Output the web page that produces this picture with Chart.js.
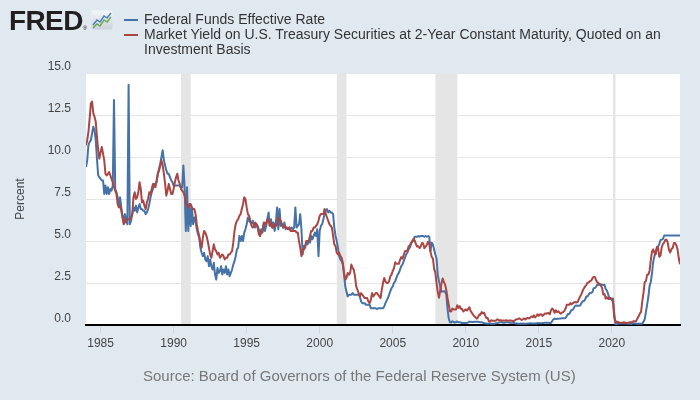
<!DOCTYPE html>
<html>
<head>
<meta charset="utf-8">
<script src="https://cdn.jsdelivr.net/npm/chart.js@4.4.1/dist/chart.umd.min.js"></script>
<style>
html,body{margin:0;padding:0;background:#e1e9f0;}
#wrap{position:relative;width:700px;height:400px;overflow:hidden;background:#e1e9f0;font-family:'Liberation Sans',Arial,sans-serif;}
#c{position:absolute;left:0;top:0;}
.logo{position:absolute;left:9px;top:6px;font-weight:bold;font-size:28px;line-height:30px;color:#231f20;letter-spacing:-0.6px;}
.logo .reg{font-size:6px;font-weight:normal;letter-spacing:0;vertical-align:baseline;}
.icon{position:absolute;left:91px;top:10px;}
#legend{position:absolute;left:124px;top:12px;}
.item{position:relative;padding-left:20px;width:536px;font-size:14px;line-height:15px;color:#333;}
.item .mk{position:absolute;left:0;top:7px;width:14px;height:2px;}
#source{position:absolute;left:143px;top:367px;font-size:15px;line-height:18px;color:#777;white-space:nowrap;}
</style>
</head>
<body>
<div id="wrap">
  <canvas id="c" width="700" height="400"></canvas>
  <div class="logo">FRED<span class="reg">®</span></div>
  <svg class="icon" width="22" height="20" viewBox="0 0 22 20">
    <defs><linearGradient id="g" x1="0" y1="0" x2="0" y2="1"><stop offset="0" stop-color="#f4f6f8"/><stop offset="1" stop-color="#c9d3db"/></linearGradient></defs>
    <rect x="0.5" y="0.5" width="21" height="19" rx="2" fill="url(#g)"/>
    <polyline points="2,15 6,10 9,12 13,6 16,8 20,3" fill="none" stroke="#4a7fb8" stroke-width="1.4"/>
    <polyline points="2,18 6,14 9,16 13,10 16,12 20,7" fill="none" stroke="#6aa84f" stroke-width="1.4"/>
  </svg>
  <div id="legend"></div>
  <div id="source">Source: Board of Governors of the Federal Reserve System (US)</div>
</div>
<script>
// ---- chart data (monthly observations, first value = January 1984) ----
const START_YEAR = 1984;
const seriesNames = [
  "Federal Funds Effective Rate",
  "Market Yield on U.S. Treasury Securities at 2-Year Constant Maturity, Quoted on an Investment Basis"
];
const seriesColors = ["#4572a7", "#aa4643"];

const fedFunds = [
  9.4, 9.8, 10.7, 10.9, 11.0, 11.4, 11.8, 11.6, 11.0, 9.9, 8.9, 8.8,      // 1984
  8.7, 8.6, 8.6, 7.8, 8.3, 7.8, 8.2, 7.8, 8.1, 8.0, 8.3, 13.4,            // 1985
  8.1, 7.9, 7.6, 7.1, 7.6, 7.0, 6.5, 6.1, 6.6, 6.3, 6.0, 14.3,            // 1986
  6.0, 6.2, 6.6, 7.0, 6.8, 7.1, 6.7, 7.0, 7.2, 6.9, 6.9, 6.8,             // 1987
  6.8, 6.6, 6.7, 6.9, 7.2, 7.6, 7.9, 8.1, 8.3, 8.4, 8.5, 9.0,             // 1988
  9.3, 9.6, 10.0, 10.4, 9.8, 9.5, 9.2, 9.0, 9.0, 8.8, 8.6, 8.5,           // 1989
  8.3, 8.3, 8.3, 8.3, 8.3, 8.3, 8.2, 8.2, 9.5, 8.2, 5.6, 8.2,             // 1990
  5.6, 7.2, 5.9, 7.0, 6.0, 6.4, 6.2, 5.7, 5.4, 5.2, 4.6, 4.3,             // 1991
  4.1, 4.3, 3.9, 3.8, 4.1, 3.5, 3.9, 3.5, 3.3, 3.7, 3.0, 2.7,             // 1992
  3.4, 3.1, 3.2, 3.5, 3.0, 3.3, 3.1, 3.5, 3.0, 3.3, 2.9, 3.1,             // 1993
  3.3, 3.6, 3.8, 4.1, 4.5, 4.6, 5.3, 5.0, 5.3, 5.0, 5.5, 5.7,             // 1994
  6.0, 6.4, 6.2, 6.1, 6.0, 6.2, 6.0, 5.8, 6.0, 5.9, 5.7, 5.3,             // 1995
  5.7, 5.5, 6.1, 5.6, 5.9, 6.3, 6.7, 5.9, 6.3, 5.8, 6.1, 5.6,             // 1996
  6.1, 7.0, 5.7, 6.9, 5.9, 6.0, 5.8, 6.1, 5.7, 5.8, 5.7, 5.8,             // 1997
  5.7, 5.8, 5.7, 5.8, 7.0, 5.8, 5.9, 6.0, 6.6, 5.7, 4.2, 4.7,             // 1998
  4.7, 4.9, 4.8, 5.0, 4.9, 5.3, 5.1, 5.3, 5.5, 5.3, 5.7, 4.1,             // 1999
  5.6, 5.9, 6.0, 6.3, 6.6, 6.8, 6.9, 6.7, 6.8, 6.7, 6.7, 6.6,             // 2000
  5.8, 5.3, 5.0, 4.6, 4.1, 3.9, 3.8, 3.6, 3.0, 2.3, 2.0, 1.7,             // 2001
  1.8, 1.8, 1.8, 1.9, 1.8, 1.8, 1.8, 1.8, 1.8, 1.7, 1.4, 1.3,             // 2002
  1.3, 1.3, 1.2, 1.2, 1.2, 1.2, 1.0, 1.0, 1.0, 1.0, 1.0, 0.95,            // 2003
  1.0, 1.0, 1.0, 1.0, 1.0, 1.1, 1.3, 1.45, 1.6, 1.8, 2.0, 2.2,            // 2004
  2.3, 2.5, 2.6, 2.8, 3.0, 3.1, 3.3, 3.5, 3.6, 3.8, 4.0, 4.2,             // 2005
  4.3, 4.5, 4.6, 4.8, 5.0, 5.0, 5.25, 5.25, 5.25, 5.3, 5.25, 5.3,         // 2006
  5.3, 5.3, 5.25, 5.3, 5.25, 5.3, 5.25, 4.4, 4.9, 4.8, 4.5, 4.2,          // 2007
  3.94, 2.98, 2.61, 2.28, 1.98, 2.00, 2.01, 2.00, 1.81, 0.97, 0.39, 0.16, // 2008
  0.15, 0.22, 0.18, 0.15, 0.18, 0.21, 0.16, 0.16, 0.15, 0.12, 0.12, 0.12, // 2009
  0.11, 0.13, 0.16, 0.20, 0.20, 0.18, 0.18, 0.19, 0.19, 0.19, 0.19, 0.18, // 2010
  0.17, 0.16, 0.14, 0.10, 0.09, 0.09, 0.07, 0.10, 0.08, 0.07, 0.08, 0.07, // 2011
  0.08, 0.10, 0.13, 0.14, 0.16, 0.16, 0.16, 0.13, 0.14, 0.16, 0.16, 0.16, // 2012
  0.14, 0.15, 0.14, 0.15, 0.11, 0.09, 0.09, 0.08, 0.08, 0.09, 0.08, 0.09, // 2013
  0.07, 0.07, 0.08, 0.09, 0.09, 0.10, 0.09, 0.09, 0.09, 0.09, 0.09, 0.12, // 2014
  0.11, 0.11, 0.11, 0.12, 0.12, 0.13, 0.13, 0.14, 0.14, 0.12, 0.12, 0.24, // 2015
  0.34, 0.38, 0.36, 0.37, 0.37, 0.38, 0.39, 0.40, 0.40, 0.40, 0.41, 0.54, // 2016
  0.65, 0.66, 0.79, 0.90, 0.91, 1.04, 1.15, 1.16, 1.15, 1.15, 1.16, 1.30, // 2017
  1.41, 1.42, 1.51, 1.69, 1.70, 1.82, 1.91, 1.91, 1.95, 2.19, 2.20, 2.27, // 2018
  2.40, 2.40, 2.41, 2.42, 2.39, 2.38, 2.40, 2.13, 2.04, 1.83, 1.55, 1.55, // 2019
  1.55, 1.58, 0.65, 0.05, 0.05, 0.08, 0.09, 0.10, 0.09, 0.09, 0.09, 0.09, // 2020
  0.09, 0.08, 0.07, 0.07, 0.06, 0.08, 0.10, 0.09, 0.08, 0.08, 0.08, 0.08, // 2021
  0.08, 0.08, 0.20, 0.33, 0.77, 1.21, 1.68, 2.33, 2.56, 3.08, 3.78, 4.10, // 2022
  4.33, 4.57, 4.65, 4.83, 5.06, 5.08, 5.12, 5.33, 5.33, 5.33, 5.33, 5.33, // 2023
  5.33, 5.33, 5.33, 5.33, 5.33, 5.33, 5.33, 5.33, 5.33                    // 2024 (Jan-Sep)
];

const treasury2y = [
  10.7, 11.0, 11.5, 12.3, 13.2, 13.3, 12.6, 12.4, 12.1, 11.2, 10.4, 9.9,  // 1984
  10.3, 10.6, 10.2, 9.8, 9.0, 8.9, 9.0, 9.1, 8.9, 8.7, 8.5, 8.2,          // 1985
  8.0, 7.8, 7.2, 7.0, 7.1, 6.8, 6.4, 6.0, 6.1, 6.3, 6.3, 6.3,             // 1986
  6.3, 6.4, 6.6, 7.6, 7.9, 7.5, 7.6, 7.9, 8.5, 8.1, 7.3, 7.4,             // 1987
  7.1, 6.9, 7.3, 7.5, 7.9, 7.8, 8.1, 8.4, 8.4, 8.2, 8.6, 9.0,             // 1988
  9.2, 9.5, 9.8, 9.5, 9.0, 8.4, 7.7, 8.0, 8.4, 8.1, 7.8, 7.8,             // 1989
  8.1, 8.5, 8.8, 9.0, 8.6, 8.4, 8.1, 8.0, 7.9, 7.7, 7.4, 7.2,             // 1990
  7.0, 7.1, 7.2, 7.0, 6.9, 6.9, 6.6, 6.0, 5.6, 5.3, 4.9, 4.6,             // 1991
  5.2, 5.6, 5.5, 5.3, 5.0, 4.6, 4.2, 4.0, 4.4, 4.8, 4.5, 4.4,             // 1992
  4.2, 4.3, 4.0, 4.1, 4.2, 4.1, 3.9, 4.0, 4.0, 4.2, 4.2, 4.3,             // 1993
  4.4, 4.9, 5.6, 6.0, 6.2, 6.3, 6.5, 6.6, 6.9, 7.2, 7.6, 7.5,             // 1994
  7.0, 6.6, 6.5, 6.2, 5.9, 5.8, 5.9, 6.1, 6.0, 5.8, 5.4, 5.3,             // 1995
  5.6, 5.6, 6.0, 6.1, 6.0, 6.3, 6.3, 5.9, 6.1, 5.8, 5.8, 6.0,             // 1996
  5.9, 6.0, 6.4, 6.3, 6.2, 6.0, 5.8, 5.9, 5.8, 5.8, 5.7, 5.8,             // 1997
  5.6, 5.6, 5.6, 5.6, 5.6, 5.5, 5.5, 5.0, 4.6, 4.1, 4.5, 4.5,             // 1998
  4.6, 5.0, 5.0, 5.0, 5.3, 5.6, 5.6, 5.8, 5.8, 5.9, 6.0, 6.2,             // 1999
  6.5, 6.6, 6.6, 6.6, 6.9, 6.6, 6.4, 6.2, 6.0, 5.9, 5.8, 5.3,             // 2000
  4.8, 4.7, 4.3, 4.2, 4.3, 4.1, 4.0, 3.7, 3.1, 2.7, 2.8, 3.1,             // 2001
  3.0, 3.1, 3.6, 3.4, 3.3, 2.9, 2.3, 2.1, 1.9, 1.7, 1.9, 1.8,             // 2002
  1.7, 1.6, 1.6, 1.6, 1.4, 1.3, 1.5, 1.9, 1.7, 1.8, 1.9, 1.9,             // 2003
  1.8, 1.7, 1.6, 2.1, 2.5, 2.8, 2.6, 2.5, 2.5, 2.6, 2.9, 3.0,             // 2004
  3.22, 3.38, 3.73, 3.65, 3.64, 3.64, 3.87, 4.04, 3.95, 4.17, 4.39, 4.40, // 2005
  4.40, 4.67, 4.73, 4.89, 4.97, 5.12, 5.04, 4.82, 4.67, 4.69, 4.58, 4.67, // 2006
  4.88, 4.85, 4.57, 4.67, 4.77, 4.96, 4.82, 4.36, 4.06, 3.97, 3.34, 3.12, // 2007
  2.48, 1.97, 1.62, 2.05, 2.45, 2.77, 2.57, 2.42, 2.08, 1.61, 1.21, 0.82, // 2008
  0.81, 0.98, 0.93, 0.93, 0.92, 1.18, 1.02, 1.12, 0.96, 0.95, 0.80, 0.87, // 2009
  0.93, 0.86, 0.96, 1.06, 0.83, 0.72, 0.62, 0.52, 0.47, 0.38, 0.45, 0.62, // 2010
  0.61, 0.77, 0.70, 0.73, 0.56, 0.41, 0.41, 0.23, 0.21, 0.28, 0.25, 0.26, // 2011
  0.24, 0.28, 0.34, 0.29, 0.29, 0.29, 0.25, 0.27, 0.26, 0.28, 0.27, 0.26, // 2012
  0.27, 0.27, 0.26, 0.23, 0.25, 0.33, 0.34, 0.36, 0.40, 0.34, 0.30, 0.34, // 2013
  0.39, 0.33, 0.40, 0.42, 0.39, 0.45, 0.51, 0.47, 0.57, 0.45, 0.53, 0.64, // 2014
  0.55, 0.62, 0.64, 0.54, 0.61, 0.69, 0.67, 0.70, 0.71, 0.64, 0.88, 0.98, // 2015
  0.90, 0.73, 0.88, 0.77, 0.82, 0.73, 0.67, 0.74, 0.77, 0.84, 0.98, 1.20, // 2016
  1.21, 1.20, 1.31, 1.24, 1.30, 1.34, 1.37, 1.34, 1.38, 1.55, 1.70, 1.84, // 2017
  2.03, 2.18, 2.28, 2.38, 2.51, 2.53, 2.61, 2.64, 2.77, 2.86, 2.86, 2.68, // 2018
  2.54, 2.50, 2.41, 2.34, 2.21, 1.81, 1.84, 1.57, 1.65, 1.55, 1.61, 1.61, // 2019
  1.52, 1.33, 0.45, 0.23, 0.17, 0.19, 0.14, 0.14, 0.13, 0.14, 0.17, 0.13, // 2020
  0.13, 0.12, 0.15, 0.16, 0.16, 0.20, 0.22, 0.22, 0.23, 0.39, 0.52, 0.68, // 2021
  0.78, 1.41, 1.91, 2.54, 2.61, 2.99, 3.00, 3.23, 3.86, 4.38, 4.50, 4.29, // 2022
  4.21, 4.65, 4.58, 4.06, 4.13, 4.64, 4.83, 4.91, 5.08, 5.07, 4.88, 4.46, // 2023
  4.32, 4.53, 4.59, 4.88, 4.88, 4.74, 4.50, 3.97, 3.62                    // 2024 (Jan-Sep)
];

const xTickYears = [1985, 1990, 1995, 2000, 2005, 2010, 2015, 2020];
const yTickValues = [0, 2.5, 5, 7.5, 10, 12.5, 15];
// recession periods (decimal years: start, end)
const recessions = [[1990.5, 1991.17], [2001.17, 2001.83], [2007.92, 2009.42], [2020.08, 2020.25]];

// ---- build ----
const toPoints = arr => arr.map((v, i) => ({ x: START_YEAR + i / 12, y: v }));
const lastX = START_YEAR + (fedFunds.length - 1) / 12;

// legend (HTML)
const legendEl = document.getElementById('legend');
seriesNames.forEach((name, i) => {
  const d = document.createElement('div');
  d.className = 'item';
  d.innerHTML = '<span class="mk" style="background:' + seriesColors[i] + '"></span>' + name;
  legendEl.appendChild(d);
});

const bandsPlugin = {
  id: 'bands',
  beforeDraw(chart) {
    const { ctx, chartArea: a, scales: { x } } = chart;
    ctx.save();
    ctx.fillStyle = '#ffffff';
    ctx.fillRect(a.left, a.top, a.right - a.left, a.bottom - a.top);
    ctx.fillStyle = '#e5e5e5';
    recessions.forEach(([s, e]) => {
      const x1 = x.getPixelForValue(s), x2 = x.getPixelForValue(e);
      ctx.fillRect(x1, a.top, x2 - x1, a.bottom - a.top);
    });
    ctx.restore();
  }
};

Chart.defaults.font.family = "'Liberation Sans', Arial, sans-serif";

new Chart(document.getElementById('c'), {
  type: 'line',
  data: {
    datasets: [
      { label: seriesNames[0], data: toPoints(fedFunds), borderColor: seriesColors[0], borderWidth: 2,
        pointRadius: 0, tension: 0, borderJoinStyle: 'round', order: 1 },
      { label: seriesNames[1], data: toPoints(treasury2y), borderColor: seriesColors[1], borderWidth: 2,
        pointRadius: 0, tension: 0, borderJoinStyle: 'round', order: 0 }
    ]
  },
  options: {
    responsive: false,
    animation: false,
    devicePixelRatio: 1,
    layout: { padding: { top: 73, right: 20, left: 0, bottom: 0 } },
    plugins: { legend: { display: false }, tooltip: { enabled: false } },
    scales: {
      x: {
        type: 'linear', min: START_YEAR, max: lastX,
        afterBuildTicks: s => { s.ticks = xTickYears.map(v => ({ value: v })); },
        afterFit: s => { s.height = 75; },
        grid: { display: true, drawOnChartArea: false, drawTicks: true, tickLength: 8, color: '#ccd6eb' },
        border: { display: true, color: '#000000', width: 2 },
        ticks: { color: '#444', font: { size: 12 }, padding: 3, maxRotation: 0, autoSkip: false, callback: v => String(v) }
      },
      y: {
        min: 0, max: 15,
        afterBuildTicks: s => { s.ticks = yTickValues.map(v => ({ value: v })); },
        afterFit: s => { s.width = 86; },
        grid: { color: '#e6e6e6', drawTicks: false },
        border: { display: false },
        ticks: { color: '#444', font: { size: 12 }, padding: 15, labelOffset: -6, callback: v => Number(v).toFixed(1) },
        title: { display: true, text: 'Percent', color: '#444', font: { size: 12 }, padding: { top: 13, bottom: 0 } }
      }
    }
  },
  plugins: [bandsPlugin]
});
</script>
</body>
</html>
